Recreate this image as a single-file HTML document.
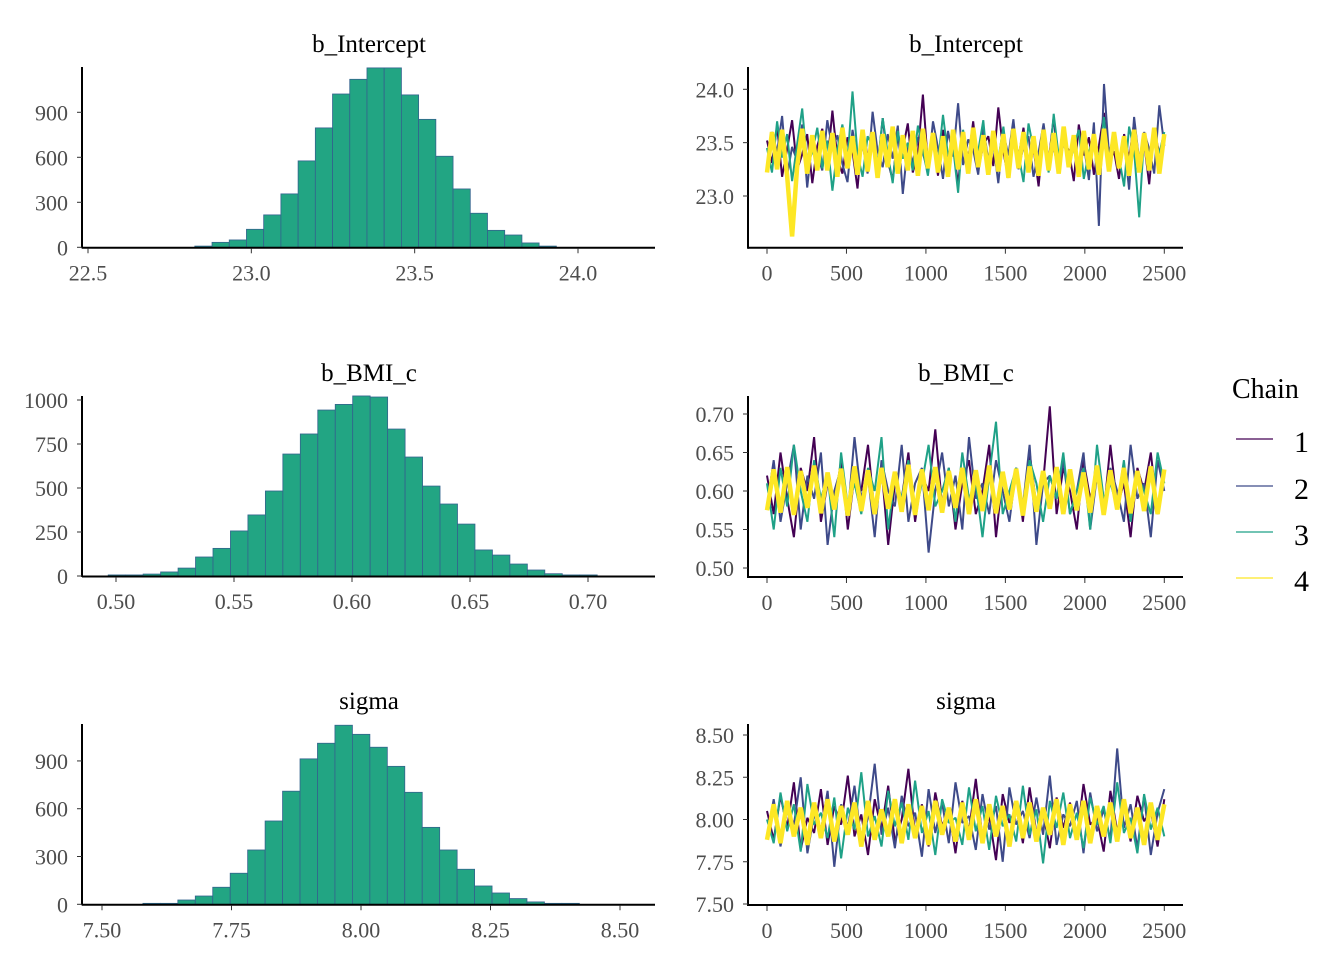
<!DOCTYPE html>
<html><head><meta charset="utf-8"><style>
html,body{margin:0;padding:0;background:#fff;}
svg{display:block;font-family:"Liberation Serif",serif;}
.tick{fill:#4d4d4d;font-size:22px;}
.title{fill:#000;font-size:25px;}
</style></head><body>
<svg id="chart" width="1344" height="960" viewBox="0 0 1344 960" xmlns="http://www.w3.org/2000/svg">
<g>
<text x="1232" y="398" font-size="28" fill="#000">Chain</text>
<line x1="1236" x2="1273" y1="439" y2="439" stroke="#440154" stroke-width="1.2"/>
<text x="1294" y="452" font-size="30">1</text>
<line x1="1236" x2="1273" y1="486" y2="486" stroke="#3E4A89" stroke-width="1.2"/>
<text x="1294" y="499" font-size="30">2</text>
<line x1="1236" x2="1273" y1="532" y2="532" stroke="#1FA187" stroke-width="1.2"/>
<text x="1294" y="545" font-size="30">3</text>
<line x1="1236" x2="1273" y1="578" y2="578" stroke="#FDE725" stroke-width="1.2"/>
<text x="1294" y="591" font-size="30">4</text>
</g>
</svg>
<script>
// ---- histogram data ----
const histInterceptCounts=[8,33,49,120,216,356,576,796,1022,1120,1196,1196,1016,853,607,389,227,113,82,29,8];
const histInterceptStart=22.827, histInterceptWidth=0.0527;
const histBMICounts=[6,6,11,23,45,108,157,256,347,483,693,807,943,975,1023,1017,835,676,511,409,295,148,119,68,34,13,6,6];
const histBMIStart=0.4967, histBMIWidth=0.0074;
const histSigmaCounts=[6,6,27,52,107,195,341,523,710,913,1011,1124,1067,986,866,703,483,341,220,115,71,36,15,6,6];
const histSigmaStart=7.579, histSigmaWidth=0.0337;
const histInterceptTicks=[22.5,23.0,23.5,24.0];
const histBMITicks=[0.50,0.55,0.60,0.65,0.70];
const histSigmaTicks=[7.50,7.75,8.00,8.25,8.50];
const histInterceptYTicks=[0,300,600,900];
const histBMIYTicks=[0,250,500,750,1000];
const histSigmaYTicks=[0,300,600,900];
// ---- trace data ----
const traceXTicks=[0,500,1000,1500,2000,2500];
const nIter=2500;
const traceInterceptYTicks=[23.0,23.5,24.0];
const traceBMIYTicks=[0.50,0.55,0.60,0.65,0.70];
const traceSigmaYTicks=[7.50,7.75,8.00,8.25,8.50];
const interceptChain1=[23.52,23.31,23.66,23.18,23.44,23.71,23.25,23.39,23.58,23.12,23.47,23.63,23.29,23.80,23.35,23.21,23.55,23.42,23.07,23.61,23.38,23.49,23.26,23.73,23.33,23.15,23.57,23.44,23.68,23.22,23.40,23.95,23.30,23.51,23.19,23.62,23.37,23.46,23.11,23.59,23.34,23.70,23.24,23.48,23.56,23.28,23.83,23.41,23.17,23.53,23.36,23.64,23.23,23.45,23.09,23.60,23.32,23.74,23.27,23.50,23.43,23.14,23.67,23.38,23.55,23.20,23.47,23.78,23.31,23.42,23.16,23.58,23.35,23.69,23.26,23.49,23.11,23.62,23.40,23.52];
const interceptChain2=[23.28,23.60,23.41,23.75,23.19,23.46,23.33,23.67,23.08,23.52,23.39,23.24,23.71,23.44,23.57,23.30,23.13,23.62,23.36,23.49,23.21,23.79,23.42,23.27,23.58,23.35,23.66,23.02,23.48,23.31,23.55,23.40,23.23,23.70,23.45,23.16,23.61,23.37,23.87,23.29,23.53,23.43,23.20,23.64,23.34,23.50,23.12,23.59,23.38,23.72,23.25,23.47,23.56,23.18,23.41,23.68,23.32,23.46,23.22,23.63,23.36,23.54,23.26,23.48,23.15,23.69,22.72,24.05,23.39,23.58,23.28,23.51,23.06,23.74,23.33,23.60,23.44,23.21,23.85,23.47];
const interceptChain3=[23.45,23.22,23.70,23.36,23.58,23.14,23.49,23.82,23.30,23.41,23.64,23.26,23.52,23.05,23.44,23.67,23.33,23.98,23.39,23.18,23.56,23.47,23.28,23.73,23.40,23.12,23.61,23.35,23.50,23.24,23.66,23.43,23.19,23.57,23.31,23.76,23.38,23.46,23.03,23.62,23.29,23.54,23.42,23.71,23.20,23.48,23.34,23.65,23.25,23.51,23.39,23.13,23.68,23.44,23.30,23.59,23.22,23.77,23.37,23.53,23.27,23.46,23.62,23.16,23.41,23.56,23.33,23.74,23.24,23.49,23.36,23.09,23.65,23.43,22.80,23.58,23.31,23.52,23.40,23.60];
const interceptChain4=[23.22,23.60,23.25,23.62,23.19,22.62,23.28,23.63,23.21,23.57,23.24,23.61,23.24,23.59,23.18,23.64,23.26,23.56,23.20,23.62,23.23,23.60,23.17,23.58,23.27,23.65,23.21,23.57,23.24,23.61,23.19,23.63,23.26,23.59,23.22,23.56,23.18,23.62,23.25,23.60,23.21,23.64,23.27,23.57,23.20,23.61,23.23,23.58,23.17,23.63,23.26,23.60,23.22,23.56,23.19,23.62,23.24,23.59,23.21,23.65,23.27,23.57,23.18,23.61,23.25,23.58,23.20,23.63,23.23,23.60,23.26,23.56,23.19,23.62,23.22,23.59,23.24,23.64,23.21,23.58];
const bmiChain1=[.62,.57,.65,.59,.54,.63,.60,.67,.56,.61,.58,.64,.55,.62,.60,.66,.57,.63,.53,.61,.59,.65,.56,.62,.60,.68,.58,.63,.55,.61,.64,.57,.60,.66,.54,.62,.59,.63,.56,.65,.58,.61,.71,.57,.63,.60,.55,.64,.59,.62,.57,.66,.58,.61,.54,.63,.60,.65,.57,.62];
const bmiChain2=[.58,.64,.56,.61,.66,.55,.62,.59,.65,.53,.60,.63,.57,.67,.59,.62,.54,.64,.60,.58,.66,.56,.61,.63,.52,.60,.65,.58,.62,.55,.67,.59,.61,.57,.64,.60,.56,.63,.58,.66,.53,.61,.62,.59,.64,.57,.60,.65,.55,.62,.58,.63,.60,.56,.66,.59,.61,.54,.64,.60];
const bmiChain3=[.61,.55,.63,.58,.66,.60,.56,.64,.59,.62,.54,.65,.58,.61,.57,.63,.60,.67,.55,.62,.59,.64,.57,.61,.66,.58,.60,.63,.56,.65,.59,.61,.54,.62,.69,.57,.60,.63,.58,.64,.61,.56,.62,.59,.65,.57,.60,.63,.55,.66,.59,.61,.58,.64,.56,.62,.60,.57,.65,.61];
const bmiChain4=[.575,.628,.572,.631,.569,.626,.578,.633,.571,.624,.576,.629,.568,.632,.574,.627,.570,.630,.577,.625,.573,.634,.569,.628,.575,.631,.572,.626,.578,.630,.570,.627,.574,.633,.571,.625,.576,.629,.568,.632,.573,.626,.577,.631,.570,.628,.575,.624,.572,.633,.569,.627,.576,.630,.571,.626,.574,.632,.570,.628];
const sigmaChain1=[8.05,7.88,8.14,7.95,8.22,7.82,8.01,7.92,8.18,7.85,8.08,7.97,8.26,7.90,8.03,7.79,8.12,7.94,8.20,7.87,8.00,8.30,7.91,8.09,7.84,8.16,7.96,8.06,7.80,8.11,7.93,8.24,7.89,8.02,7.76,8.15,7.98,8.07,7.86,8.19,7.92,8.04,7.83,8.13,7.95,8.10,7.88,8.21,7.97,8.01,7.81,8.17,7.93,8.08,7.87,8.14,7.99,8.05,7.84,8.12];
const sigmaChain2=[7.90,8.12,7.84,8.06,7.97,8.25,7.80,8.03,7.93,8.17,7.72,8.09,7.95,8.20,7.87,8.01,8.33,7.91,8.07,7.83,8.14,7.96,8.04,7.78,8.18,7.92,8.10,7.86,8.22,7.98,8.02,7.82,8.15,7.94,8.08,7.75,8.19,7.97,8.05,7.89,8.13,7.91,8.26,7.85,8.03,7.96,8.11,7.80,8.16,7.93,8.06,7.88,8.42,7.95,8.09,7.83,8.14,7.79,8.04,8.18];
const sigmaChain3=[8.00,7.86,8.16,7.93,8.09,7.81,8.21,7.97,8.04,7.89,8.13,7.77,8.07,7.94,8.28,7.90,8.02,7.84,8.17,7.96,8.10,7.88,8.23,7.92,8.05,7.79,8.12,7.98,8.01,7.85,8.19,7.93,8.08,7.82,8.14,7.96,8.03,7.87,8.20,7.91,8.06,7.74,8.11,7.95,8.16,7.89,8.04,7.83,8.13,7.97,8.08,7.86,8.22,7.92,8.01,7.80,8.15,7.94,8.07,7.90];
const sigmaChain4=[7.88,8.09,7.86,8.11,7.90,8.07,7.85,8.10,7.89,8.12,7.87,8.08,7.91,8.10,7.84,8.11,7.88,8.06,7.90,8.12,7.86,8.09,7.89,8.08,7.85,8.11,7.91,8.07,7.87,8.10,7.88,8.12,7.86,8.09,7.90,8.08,7.84,8.11,7.89,8.10,7.87,8.07,7.91,8.12,7.85,8.09,7.88,8.11,7.86,8.08,7.90,8.10,7.87,8.12,7.89,8.07,7.85,8.10,7.88,8.09];

const NS='http://www.w3.org/2000/svg';
const svg=document.getElementById('chart');
const chainColors=['#440154','#3E4A89','#1FA187','#FDE725'];
function mk(tag,attrs,parent){const e=document.createElementNS(NS,tag);for(const k in attrs)e.setAttribute(k,attrs[k]);(parent||svg).appendChild(e);return e;}
function fmt(v,d){return v.toFixed(d);}

function histPanel(o){
  const g=mk('g',{});
  
  
  const sx=v=>o.px0+(v-o.v0)*(o.px1-o.px0)/(o.v1-o.v0);
  const sy=c=>o.y0-c*o.ppc;
  const t=mk('text',{x:o.cx,y:o.ty,'text-anchor':'middle',class:'title'},g);t.textContent=o.title;
  
  
  o.counts.forEach((c,i)=>{
    const x=sx(o.start+i*o.width), x2=sx(o.start+(i+1)*o.width);
    const r=mk('rect',{x:x,y:sy(c),width:x2-x,height:o.y0-sy(c),fill:'#22A583',stroke:'#33638D','stroke-width':0.8},g);
    
    
  });
  const ax=mk('line',{x1:o.axL,x2:o.axR,y1:o.y0+0.5,y2:o.y0+0.5,stroke:'#000','stroke-width':2},g);
  
  
  const ay=mk('line',{x1:o.axL,x2:o.axL,y1:o.axT,y2:o.y0+1,stroke:'#000','stroke-width':2},g);
  
  
  o.xt.forEach(v=>{
    const x=sx(v);
    mk('line',{x1:x,x2:x,y1:o.y0+1,y2:o.y0+6,stroke:'#333'},g);
    const tx=mk('text',{x:x,y:o.y0+33,'text-anchor':'middle',class:'tick'},g);tx.textContent=fmt(v,o.xd);
    
    
  });
  o.yt.forEach(v=>{
    const y=sy(v);
    mk('line',{x1:o.axL-5,x2:o.axL,y1:y,y2:y,stroke:'#333'},g);
    const ty=mk('text',{x:o.axL-14,y:y+8,'text-anchor':'end',class:'tick'},g);ty.textContent=String(v);
    
    
  });
}
function tracePanel(o){
  const g=mk('g',{});
  
  
  const sx=i=>767+i*(1164.3-767)/nIter;
  const sy=v=>o.ya+(v-o.va)*(o.yb-o.ya)/(o.vb-o.va);
  const t=mk('text',{x:966,y:o.ty,'text-anchor':'middle',class:'title'},g);t.textContent=o.title;
  
  
  o.chains.forEach((arr,ci)=>{
    const n=arr.length;
    const pts=arr.map((v,i)=>sx(i*nIter/(n-1)).toFixed(1)+','+sy(v).toFixed(1)).join(' ');
    const p=mk('polyline',{points:pts,fill:'none',stroke:chainColors[ci],'stroke-width':ci==3?4.5:2,'stroke-linejoin':'bevel'},g);
    
    
  });
  const ax=mk('line',{x1:748,x2:1183,y1:o.axB,y2:o.axB,stroke:'#000','stroke-width':2},g);
  
  
  const ay=mk('line',{x1:748,x2:748,y1:o.axT,y2:o.axB+1,stroke:'#000','stroke-width':2},g);
  
  
  traceXTicks.forEach(v=>{
    const x=sx(v);
    mk('line',{x1:x,x2:x,y1:o.axB+1,y2:o.axB+6,stroke:'#333'},g);
    const tx=mk('text',{x:x,y:o.axB+33,'text-anchor':'middle',class:'tick'},g);tx.textContent=String(v);
    
    
  });
  o.yt.forEach(v=>{
    const y=sy(v);
    mk('line',{x1:743,x2:748,y1:y,y2:y,stroke:'#333'},g);
    const ty=mk('text',{x:734,y:y+8,'text-anchor':'end',class:'tick'},g);ty.textContent=fmt(v,o.yd);
    
    
  });
}
histPanel({name:'hist-b-intercept',title:'b_Intercept',cx:369,ty:52,counts:histInterceptCounts,start:histInterceptStart,width:histInterceptWidth,
  v0:22.5,v1:24.0,px0:88,px1:578,y0:247.3,ppc:0.15,axL:82,axR:655,axT:67,xt:histInterceptTicks,xd:1,yt:histInterceptYTicks});
histPanel({name:'hist-b-bmi-c',title:'b_BMI_c',cx:369,ty:381,counts:histBMICounts,start:histBMIStart,width:histBMIWidth,
  v0:0.50,v1:0.70,px0:116,px1:588,y0:576,ppc:0.176,axL:82,axR:655,axT:396,xt:histBMITicks,xd:2,yt:histBMIYTicks});
histPanel({name:'hist-sigma',title:'sigma',cx:369,ty:709,counts:histSigmaCounts,start:histSigmaStart,width:histSigmaWidth,
  v0:7.50,v1:8.50,px0:102,px1:620,y0:904.3,ppc:0.1593,axL:82,axR:655,axT:724,xt:histSigmaTicks,xd:2,yt:histSigmaYTicks});
tracePanel({name:'trace-b-intercept',title:'b_Intercept',ty:52,chains:[interceptChain1,interceptChain2,interceptChain3,interceptChain4],
  va:23.0,vb:24.0,ya:196,yb:89.3,axT:67,axB:247.7,yt:traceInterceptYTicks,yd:1});
tracePanel({name:'trace-b-bmi-c',title:'b_BMI_c',ty:381,chains:[bmiChain1,bmiChain2,bmiChain3,bmiChain4],
  va:0.50,vb:0.70,ya:568,yb:414,axT:396,axB:577,yt:traceBMIYTicks,yd:2});
tracePanel({name:'trace-sigma',title:'sigma',ty:709,chains:[sigmaChain1,sigmaChain2,sigmaChain3,sigmaChain4],
  va:7.50,vb:8.50,ya:904,yb:735,axT:724,axB:905,yt:traceSigmaYTicks,yd:2});
</script>
</body></html>
